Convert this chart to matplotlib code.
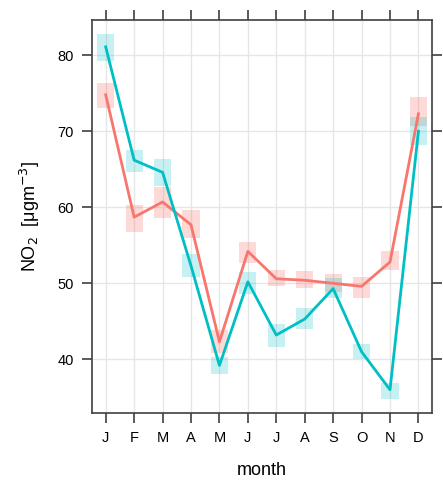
import matplotlib
matplotlib.use("Agg")
import matplotlib.pyplot as plt

plt.rcParams['font.family'] = ['Liberation Sans', 'DejaVu Sans']

# Monthly NO2 means with lower / upper confidence limits
months = ['J', 'F', 'M', 'A', 'M', 'J', 'J', 'A', 'S', 'O', 'N', 'D']

no2_a = [74.8, 58.7, 60.7, 57.7, 42.3, 54.2, 50.6, 50.4, 50.0, 49.6, 52.8, 72.3]
no2_a_lo = [73.1, 56.7, 58.6, 56.0, 40.8, 52.7, 49.6, 49.4, 48.9, 48.1, 51.7, 70.7]
no2_a_hi = [76.4, 60.3, 62.7, 59.6, 43.9, 55.5, 51.7, 51.6, 51.2, 50.8, 54.2, 74.5]

no2_b = [81.1, 66.2, 64.6, 52.3, 39.2, 50.2, 43.2, 45.3, 49.3, 41.0, 36.0, 70.0]
no2_b_lo = [79.3, 64.6, 62.8, 50.8, 38.1, 48.6, 41.6, 44.0, 48.1, 40.0, 34.8, 68.2]
no2_b_hi = [82.8, 67.6, 66.3, 53.9, 40.3, 51.5, 44.6, 46.8, 50.7, 42.0, 36.9, 71.9]

red = '#F8766D'
cyan = '#00BFC4'

x = list(range(1, 13))

fig = plt.figure(figsize=(4.43, 4.83), dpi=100)
ax = fig.add_axes([0.207, 0.1443, 0.769, 0.8143])

# grid
for xi in x:
    ax.axvline(xi, color='#E6E6E6', lw=1, zorder=0)
for yi in [40, 50, 60, 70, 80]:
    ax.axhline(yi, color='#E6E6E6', lw=1, zorder=0)

# confidence boxes
ax.bar(x, [h - l for l, h in zip(no2_a_lo, no2_a_hi)], bottom=no2_a_lo,
       width=0.6, color=red, alpha=0.27, lw=0, zorder=1)
ax.bar(x, [h - l for l, h in zip(no2_b_lo, no2_b_hi)], bottom=no2_b_lo,
       width=0.6, color=cyan, alpha=0.22, lw=0, zorder=1)

# mean lines
ax.plot(x, no2_a, color=red, lw=2, zorder=3)
ax.plot(x, no2_b, color=cyan, lw=2, zorder=3)

ax.set_xlim(0.507, 12.49)
ax.set_ylim(32.9, 84.64)
ax.set_xticks(x)
ax.set_xticklabels(months)
ax.set_yticks([40, 50, 60, 70, 80])

for s in ax.spines.values():
    s.set_color('#404040')
    s.set_linewidth(1.2)

ax.tick_params(direction='out', length=7, width=1.2, color='#404040',
               labelsize=10.5, top=True, right=True, pad=6)

ax.set_xlabel('month', fontsize=13, labelpad=12)
ax.set_ylabel(r'NO$_2$  [$\mathregular{\mu}$gm$^{-3}$]', fontsize=13, labelpad=11)

fig.savefig('out.png', dpi=100)
